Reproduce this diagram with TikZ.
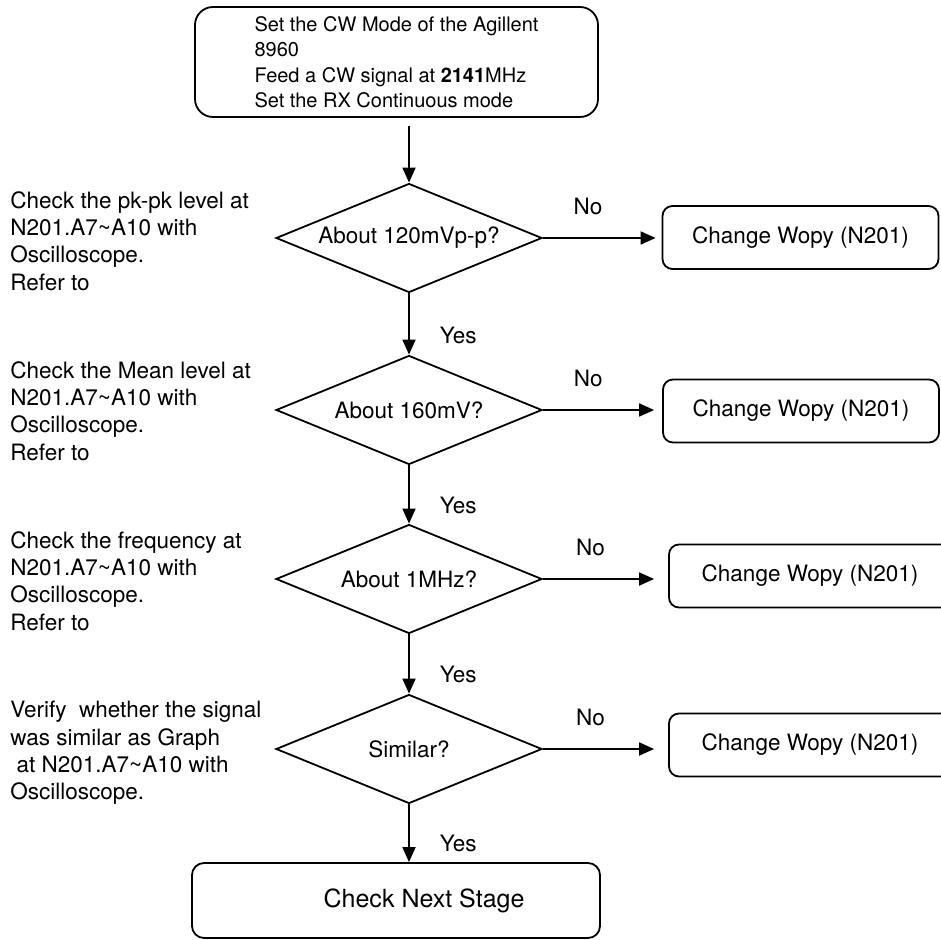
\documentclass[tikz,border=0pt]{standalone}
\usepackage{fontspec}
\setmainfont{TeX Gyre Heros}
\usetikzlibrary{shapes.geometric, arrows.meta}

\begin{document}
\begin{tikzpicture}[x=0.5pt, y=-0.5pt,
        every node/.style={font=\fontsize{11.25}{13.7}\selectfont},
        flow/.style={-{Triangle[length=7.5pt,width=6.5pt]}, line width=0.9pt},
        decision/.style={diamond, aspect=2.44, draw, line width=0.9pt, minimum width=133pt, minimum height=54.5pt, inner sep=1pt},
        fixbox/.style={rectangle, draw, rounded corners=5pt, line width=0.9pt, minimum width=138pt, minimum height=31.5pt},
        note/.style={anchor=west, align=left, inner sep=0pt},
        answer/.style={inner sep=1pt}]
        \useasboundingbox (0,0) rectangle (941,940);
        \clip (0,0) rectangle (941,940);

        \node[draw, rounded corners=9pt, line width=0.9pt, minimum width=201.5pt, minimum height=55pt, align=left, font=\fontsize{10}{12.75}\selectfont] (start) at (396.5,62) {Set the CW Mode of the Agillent\\8960\\Feed a CW signal at \textbf{2141}MHz\\Set the RX Continuous mode};

        \node[decision] (D1) at (409,238) {About 120mVp-p?};
        \node[decision] (D2) at (409,410) {About 160mV?};
        \node[decision] (D3) at (409,579) {About 1MHz?};
        \node[decision] (D4) at (409,749) {Similar?};

        \node[fixbox] (B1) at (800.5,237.5) {Change Wopy (N201)};
        \node[fixbox] (B2) at (801,411) {Change Wopy (N201)};
        \node[fixbox, minimum width=141pt] (B3) at (810,576) {Change Wopy (N201)};
        \node[fixbox, minimum width=141pt] (B4) at (810,745) {Change Wopy (N201)};

        \node[draw, rounded corners=6pt, line width=0.9pt, minimum width=204pt, minimum height=37.5pt, font=\fontsize{12.5}{15}\selectfont] (next) at (396,900.5) {\hspace*{28pt}Check Next Stage};

        \node[note] (T1) at (10,241) {Check the pk-pk level at\\N201.A7\textasciitilde A10 with\\Oscilloscope.\\Refer to};
        \node[note] (T2) at (10,411) {Check the Mean level at\\N201.A7\textasciitilde A10 with\\Oscilloscope.\\Refer to};
        \node[note] (T3) at (10,581) {Check the frequency at\\N201.A7\textasciitilde A10 with\\Oscilloscope.\\Refer to};
        \node[note] (T4) at (10,753) {Verify\ \ whether the signal\\was similar as Graph\\\mbox{}\ at N201.A7\textasciitilde A10 with\\Oscilloscope.};

        \draw[flow, shorten <=4pt] (D1.north |- start.south) -- (D1.north);
        \draw[flow] (D1.south) -- node[answer, pos=0.68, right=14pt] {Yes} (D2.north);
        \draw[flow] (D2.south) -- node[answer, pos=0.68, right=14pt] {Yes} (D3.north);
        \draw[flow] (D3.south) -- node[answer, pos=0.68, right=14pt] {Yes} (D4.north);
        \draw[flow] (D4.south) -- node[answer, pos=0.68, right=14pt] {Yes} (D4.south |- next.north);

        \draw[flow, shorten >=3pt] (D1.east) -- node[answer, pos=0.38, above=10pt] {No} (D1.east -| B1.west);
        \draw[flow, shorten >=4pt] (D2.east) -- node[answer, pos=0.38, above=10pt] {No} (D2.east -| B2.west);
        \draw[flow, shorten >=7pt] (D3.east) -- node[answer, pos=0.38, above=10pt] {No} (D3.east -| B3.west);
        \draw[flow, shorten >=7pt] (D4.east) -- node[answer, pos=0.38, above=10pt] {No} (D4.east -| B4.west);
    \end{tikzpicture}
\end{document}
